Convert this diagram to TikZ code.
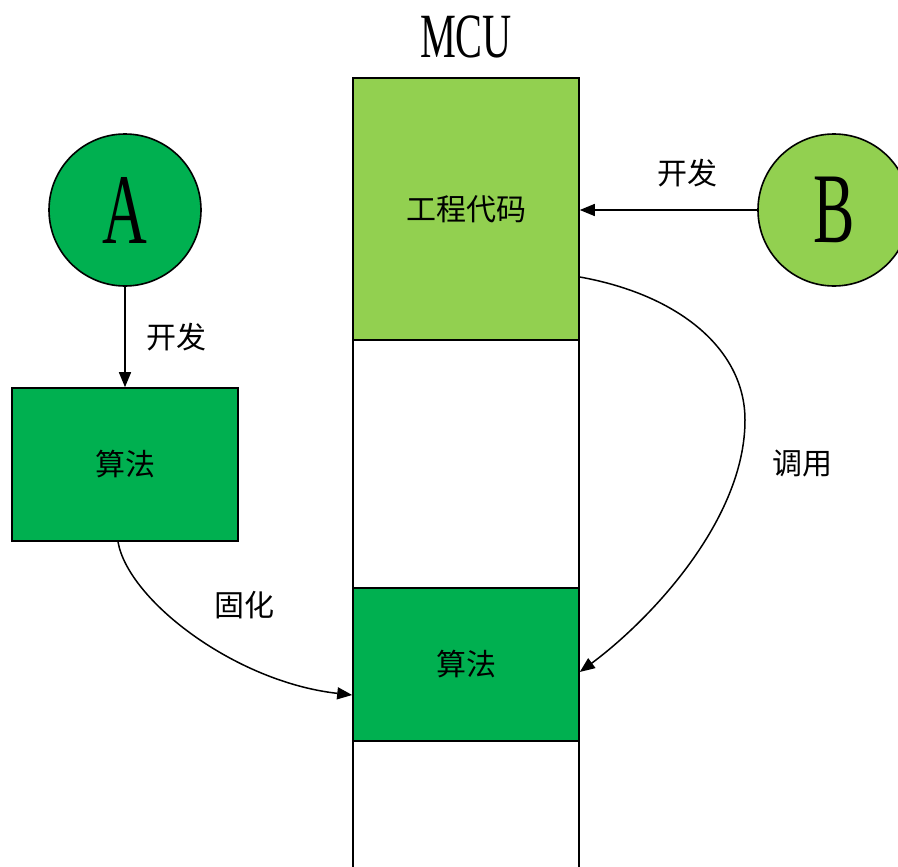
\documentclass[tikz,border=0pt]{standalone}
\usepackage{fontspec}
\setmainfont{Liberation Serif}
\newfontfamily\cjk{Noto Sans CJK SC}
\usetikzlibrary{arrows.meta}
\definecolor{lgreen}{HTML}{92D050}
\definecolor{dgreen}{HTML}{00B050}
\begin{document}
\begin{tikzpicture}[x=1pt,y=-1pt,
  blk/.style={draw=black, line width=1.6pt, rectangle, inner sep=0pt, minimum width=226pt, font=\cjk\fontsize{30}{30}\selectfont},
  ball/.style={draw=black, line width=1.6pt, circle, inner sep=0pt, minimum size=152pt},
  lbl/.style={font=\cjk\fontsize{30}{30}\selectfont, inner sep=0pt},
  big/.style={inner sep=0pt},
  arr/.style={line width=1.5pt, -{Triangle[length=15pt,width=12pt]}}]
\clip (0,0) rectangle (898,867);
\fill[white] (0,0) rectangle (898,867);
% MCU column
\node[big] (mcu) at (466,37) {\scalebox{0.64}[1]{\fontsize{63}{63}\selectfont MCU}};
\node[blk, fill=lgreen, minimum height=262pt] (code) at (466,209) {工程代码};
\node[blk, fill=white, minimum height=248pt] (blank1) at (466,464) {};
\node[blk, fill=dgreen, minimum height=153pt] (alg2) at (466,664.5) {算法};
\node[blk, fill=white, minimum height=159pt] (blank2) at (466,820.5) {};
% left side
\node[ball, fill=dgreen] (A) at (125,210) {\scalebox{0.62}[1]{\fontsize{100}{100}\selectfont A}};
\node[blk, fill=dgreen, minimum height=153pt] (alg1) at (125,464.5) {算法};
% right side
\node[ball, fill=lgreen] (B) at (834,210) {\scalebox{0.62}[1]{\fontsize{100}{100}\selectfont B}};
% connectors
\draw[arr] (A) -- (alg1);
\node[lbl] (l1) at (176,337) {开发};
\draw[arr] (B.west) -- (B.west -| code.east);
\node[lbl] (l2) at (687,173) {开发};
\coordinate (s1) at ([xshift=-7pt]alg1.south);
\coordinate (e1) at ([yshift=-30.5pt]alg2.west);
\draw[arr] (s1) .. controls (128,600) and (235,682) .. (e1);
\node[lbl] (l3) at (244,605) {固化};
\coordinate (s2) at ([yshift=-68pt]code.east);
\coordinate (m2) at (745,420);
\coordinate (e2) at ([yshift=-7.5pt]alg2.east);
\draw[arr] (s2) .. controls (680,295) and (745,350) .. (m2) .. controls (745,520) and (650,620) .. (e2);
\node[lbl] (l4) at (802,464) {调用};
\end{tikzpicture}
\end{document}
